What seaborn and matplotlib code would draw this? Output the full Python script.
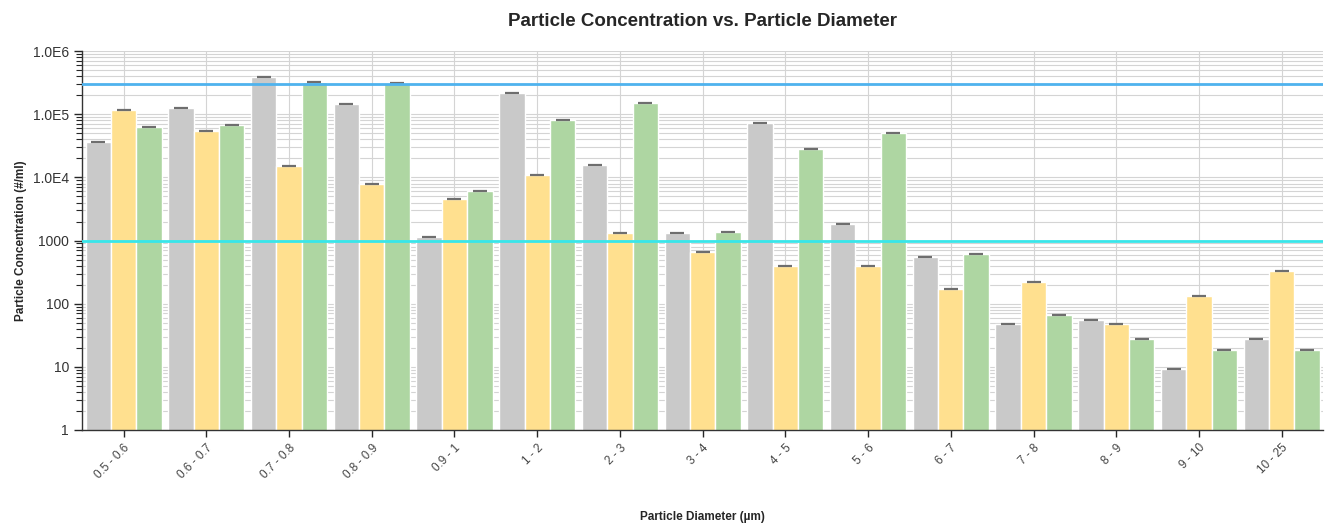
import numpy as np
import pandas as pd
import seaborn as sns
import matplotlib.pyplot as plt
from matplotlib.ticker import FixedLocator, FuncFormatter, LogLocator, NullFormatter

# data
bins = ["0.5 - 0.6", "0.6 - 0.7", "0.7 - 0.8", "0.8 - 0.9", "0.9 - 1", "1 - 2", "2 - 3", "3 - 4",
        "4 - 5", "5 - 6", "6 - 7", "7 - 8", "8 - 9", "9 - 10", "10 - 25"]
sample_a = [36000, 124000, 390000, 145000, 1150, 216000, 16000, 1330, 74000, 1830, 556, 47, 56, 9.2, 28]
sample_b = [119000, 54000, 15000, 7900, 4500, 11000, 1300, 653, 396, 390, 170, 219, 47, 132, 331]
sample_c = [64000, 69000, 320000, 310000, 6000, 81000, 149000, 1370, 28400, 50000, 603, 66, 28, 18.6, 18.6]
series = ["Sample A", "Sample B", "Sample C"]
upper_limit = 3.0e5
lower_limit = 1000

COLORS = ["#c9c9c9", "#ffe08f", "#aed6a2"]

df = pd.DataFrame({
    "bin": bins * 3,
    "conc": sample_a + sample_b + sample_c,
    "sample": np.repeat(series, len(bins)),
})

sns.set_style("white")
plt.rcParams["font.family"] = ["Liberation Sans", "DejaVu Sans"]

fig, ax = plt.subplots(figsize=(13.27, 5.23), dpi=100)
fig.subplots_adjust(left=0.062, right=0.997, bottom=0.178, top=0.902)

ax.set_yscale("log")
sns.barplot(data=df, x="bin", y="conc", hue="sample", palette=COLORS, order=bins, hue_order=series,
            errorbar=None, width=0.92, gap=0.0, saturation=1, edgecolor="white", linewidth=1,
            legend=False, ax=ax, zorder=2)

# small caps on the bar tops
for p in ax.patches:
    ax.plot(p.get_x() + p.get_width() / 2, p.get_height(), marker="_", markersize=10,
            markeredgewidth=1.6, color="#6e6e6e", zorder=3)

ax.axhline(upper_limit, color="#4fb3ee", lw=2, zorder=4)
ax.axhline(lower_limit, color="#38e6ea", lw=2, zorder=4)

ax.set_ylim(1, 1e6)
ax.set_xlim(-0.5, len(bins) - 0.5)
ax.yaxis.set_major_locator(FixedLocator([1, 10, 100, 1000, 1e4, 1e5, 1e6]))
ax.yaxis.set_minor_locator(LogLocator(base=10, subs=np.arange(2, 10)))
ax.yaxis.set_minor_formatter(NullFormatter())
ax.yaxis.set_major_formatter(FuncFormatter(
    lambda v, _: f"{v:.0f}" if v < 1e4 else f"1.0E{int(round(np.log10(v)))}"))

ax.grid(True, which="both", axis="y", color="#d4d4d4", lw=0.8, zorder=0)
ax.grid(True, which="major", axis="x", color="#d4d4d4", lw=0.8, zorder=0)
ax.set_axisbelow(True)

for s in ["top", "right"]:
    ax.spines[s].set_visible(False)
for s in ["left", "bottom"]:
    ax.spines[s].set_color("#333333")
    ax.spines[s].set_linewidth(1)

ax.tick_params(axis="y", which="major", direction="out", length=6, width=1, labelsize=10,
               labelcolor="#333333", left=True)
ax.tick_params(axis="y", which="minor", direction="out", length=4, width=0.8, left=True)
ax.tick_params(axis="x", direction="out", length=5, width=1, labelsize=8.5, labelcolor="#444444",
               bottom=True)
plt.setp(ax.get_xticklabels(), rotation=45, ha="right", rotation_mode="anchor")

ax.set_title("Particle Concentration vs. Particle Diameter", fontsize=13.5, fontweight="bold", pad=18)
ax.set_xlabel("Particle Diameter (\u00b5m)", fontsize=8.5, fontweight="bold", labelpad=22)
ax.set_ylabel("Particle Concentration (#/ml)", fontsize=8.5, fontweight="bold", labelpad=4)

plt.savefig("out.png", dpi=100)
